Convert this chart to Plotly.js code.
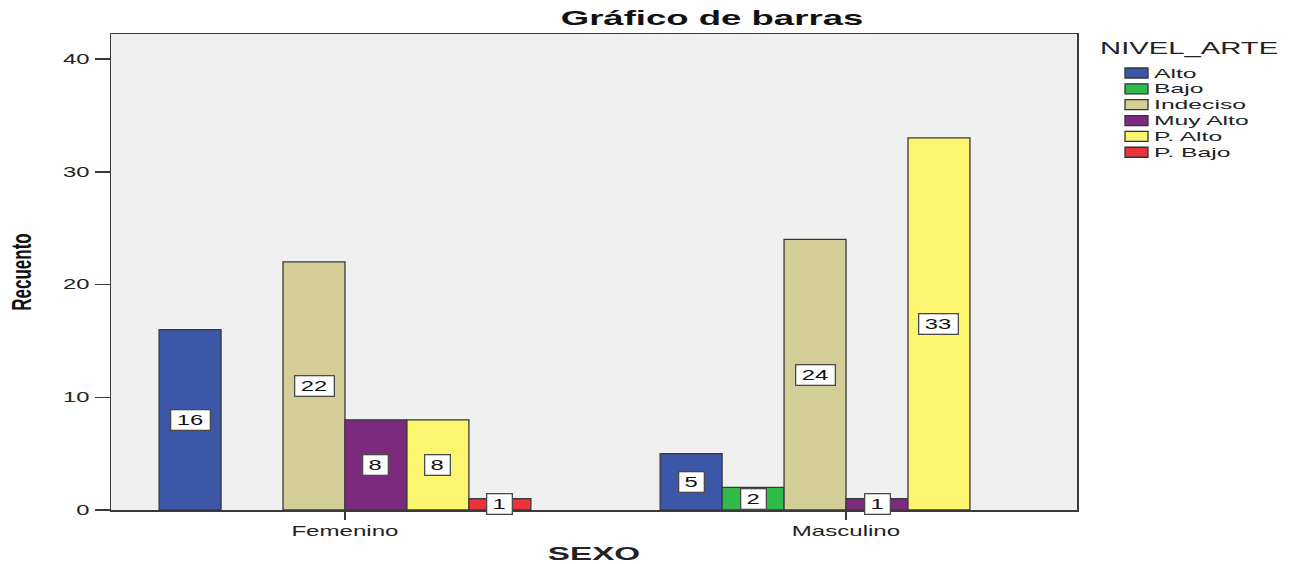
<!DOCTYPE html>
<html>
<head>
<meta charset="utf-8">
<script src="https://cdn.plot.ly/plotly-3.0.1.min.js"></script>
<style>
  html, body { margin: 0; padding: 0; background: #fff; }
  #chart { width: 1298px; height: 564px; }
</style>
</head>
<body>
<div id="chart"></div>
<script>
// ---- data ----
const categories = ['Femenino', 'Masculino'];
const seriesNames = ['Alto', 'Bajo', 'Indeciso', 'Muy Alto', 'P. Alto', 'P. Bajo'];
const alto     = [16, 5];
const bajo     = [0, 2];
const indeciso = [22, 24];
const muyAlto  = [8, 1];
const pAlto    = [8, 33];
const pBajo    = [1, 0];
const yTickVals = [0, 10, 20, 30, 40];
const legendTitle = 'NIVEL_ARTE';
const chartTitle = 'Gráfico de barras';
const xTitle = 'SEXO';
const yTitle = 'Recuento';

const seriesValues = [alto, bajo, indeciso, muyAlto, pAlto, pBajo];
const colors = ['#3c56a8', '#2fba4a', '#d3ce98', '#7c2a7d', '#fbf56f', '#ea3439'];

// ---- layout constants (pixels) ----
const W = 1298, H = 564;
const M = {l: 111, r: 221, t: 34, b: 54};
const PW = W - M.l - M.r, PH = H - M.t - M.b;
const px2x = px => (px - M.l) / PW;
const py2y = py => (H - M.b - py) / PH;
const bargap = 0.258;
const groupW = 1 - bargap;
const nS = seriesNames.length;

const traces = seriesNames.map((name, i) => ({
  type: 'bar',
  name: name,
  x: categories,
  y: seriesValues[i],
  marker: {
    color: colors[i],
    line: {color: '#3a3a3a', width: seriesValues[i].map(v => v ? 1.3 : 0)}
  },
  hoverinfo: 'none'
}));

const annotations = [];
const annStretch = [];
// bar value labels
seriesValues.forEach((vals, i) => {
  vals.forEach((v, c) => {
    if (!v) return;
    const s = String(v);
    annotations.push({
      x: c - groupW / 2 + (i + 0.5) * groupW / nS,
      y: v / 2,
      xref: 'x', yref: 'y',
      text: s,
      showarrow: false,
      font: {family: 'Liberation Sans, Arial, sans-serif', size: 14, color: '#111'},
      bgcolor: '#ffffff',
      bordercolor: '#4a4a4a',
      borderwidth: 1.3,
      borderpad: 1,
      width: 8 + 14 * s.length,
      height: 17,
      xanchor: 'center', yanchor: 'middle'
    });
    annStretch.push([1.7, 'center']);
  });
});

// custom legend
const shapes = [];
annotations.push({
  x: px2x(1098), y: py2y(48), xref: 'paper', yref: 'paper',
  text: legendTitle, showarrow: false, xanchor: 'left', yanchor: 'middle',
  font: {family: 'Liberation Sans, Arial, sans-serif', size: 17, color: '#222'}
});
annStretch.push([1.72, 'left']);
seriesNames.forEach((name, i) => {
  const cy = 73 + i * 15.85;
  shapes.push({
    type: 'rect', xref: 'paper', yref: 'paper',
    x0: px2x(1125), x1: px2x(1148), y0: py2y(cy + 5), y1: py2y(cy - 5),
    fillcolor: colors[i], line: {color: '#333', width: 1.3}
  });
  annotations.push({
    x: px2x(1152), y: py2y(cy), xref: 'paper', yref: 'paper',
    text: name, showarrow: false, xanchor: 'left', yanchor: 'middle',
    font: {family: 'Liberation Sans, Arial, sans-serif', size: 13, color: '#222'}
  });
  annStretch.push([1.9, 'left']);
});

const layout = {
  width: W, height: H,
  margin: M,
  paper_bgcolor: '#ffffff',
  plot_bgcolor: '#f0f0f0',
  showlegend: false,
  barmode: 'group',
  bargap: bargap,
  bargroupgap: 0,
  title: {
    text: '<b>' + chartTitle + '</b>',
    x: 712 / W, xref: 'container', xanchor: 'center',
    y: 1 - 18 / H, yref: 'container', yanchor: 'middle',
    font: {family: 'Liberation Sans, Arial, sans-serif', size: 21, color: '#111'}
  },
  xaxis: {
    type: 'category',
    range: [-0.467, 1.461],
    showline: true, mirror: true, linecolor: '#3a3a3a', linewidth: 1.5,
    ticks: 'outside', ticklen: 8, tickwidth: 1.5, tickcolor: '#3a3a3a',
    showgrid: false, zeroline: false,
    tickfont: {family: 'Liberation Sans, Arial, sans-serif', size: 14, color: '#222'},
    title: {
      text: '<b>' + xTitle + '</b>', standoff: 14,
      font: {family: 'Liberation Sans, Arial, sans-serif', size: 19, color: '#222'}
    },
    fixedrange: true
  },
  yaxis: {
    range: [0, 42.22],
    tickvals: yTickVals,
    showline: true, mirror: true, linecolor: '#3a3a3a', linewidth: 1.5,
    ticks: 'outside', ticklen: 15, tickwidth: 1.5, tickcolor: '#3a3a3a',
    ticklabelstandoff: 2,
    showgrid: false, zeroline: false,
    tickfont: {family: 'Liberation Sans, Arial, sans-serif', size: 14, color: '#222'},
    title: {
      text: '<b>' + yTitle + '</b>', standoff: 34,
      font: {family: 'Liberation Sans, Arial, sans-serif', size: 27, color: '#111'}
    },
    fixedrange: true
  },
  annotations: annotations,
  shapes: shapes
};

function stretchEl(el, sx, mode) {
  const bb = el.getBBox();
  const cx = mode === 'left' ? bb.x : (mode === 'right' ? bb.x + bb.width : bb.x + bb.width / 2);
  const t = el.getAttribute('transform') || '';
  el.setAttribute('transform', t + ' translate(' + cx + ',0) scale(' + sx + ',1) translate(' + (-cx) + ',0)');
}

const gd = document.getElementById('chart');
Plotly.newPlot(gd, traces, layout, {staticPlot: true, displayModeBar: false}).then(() => {
  gd.querySelectorAll('.gtitle').forEach(el => stretchEl(el, 1.74, 'center'));
  gd.querySelectorAll('.xtitle').forEach(el => stretchEl(el, 1.75, 'center'));
  gd.querySelectorAll('.ytitle').forEach(el => stretchEl(el, 0.63, 'center'));
  gd.querySelectorAll('.xtick text').forEach(el => stretchEl(el, 1.72, 'center'));
  gd.querySelectorAll('.ytick text').forEach(el => stretchEl(el, 1.7, 'right'));
  gd.querySelectorAll('.annotation').forEach(g => {
    const idx = +g.getAttribute('data-index');
    const st = annStretch[idx];
    const t = g.querySelector('.annotation-text');
    if (st && t) stretchEl(t, st[0], st[1]);
  });
});
</script>
</body>
</html>
